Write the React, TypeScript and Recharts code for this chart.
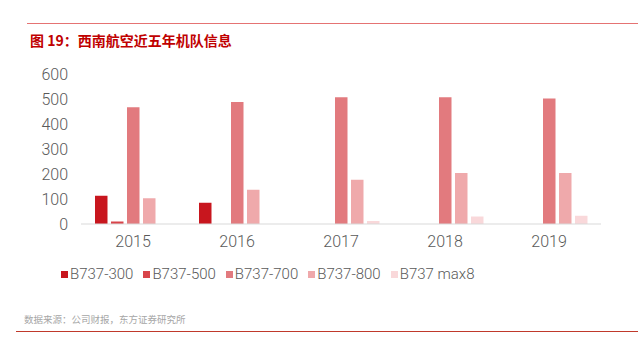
import React from 'react';
import { BarChart, Bar, XAxis, YAxis } from 'recharts';

const years = ['2015', '2016', '2017', '2018', '2019'];
const b737_300 = [113, 85, 0, 0, 0];
const b737_500 = [10, 0, 0, 0, 0];
const b737_700 = [467, 488, 507, 507, 502];
const b737_800 = [103, 137, 177, 204, 204];
const b737_max8 = [0, 0, 12, 30, 33];
const yTicks = [0, 100, 200, 300, 400, 500, 600];

const series = [
  { key: 'b300', name: 'B737-300', color: '#C8161E', values: b737_300 },
  { key: 'b500', name: 'B737-500', color: '#D8444A', values: b737_500 },
  { key: 'b700', name: 'B737-700', color: '#E27A7E', values: b737_700 },
  { key: 'b800', name: 'B737-800', color: '#EFA9AB', values: b737_800 },
  { key: 'bmax8', name: 'B737 max8', color: '#F9D8DA', values: b737_max8 },
];

const data = years.map((year, i) => {
  const row: Record<string, string | number> = { year };
  series.forEach((s) => {
    row[s.key] = s.values[i];
  });
  return row;
});

const font = 'Roboto, "Noto Sans", sans-serif';

function ChartLegend() {
  return (
    <div
      style={{
        position: 'absolute',
        left: 61,
        top: 265,
        display: 'flex',
        alignItems: 'center',
        fontFamily: font,
        fontWeight: 300,
        whiteSpace: 'nowrap',
      }}
    >
      {series.map((s) => (
        <div key={s.key} style={{ display: 'flex', alignItems: 'center', marginRight: 10 }}>
          <span style={{ width: 7, height: 7, background: s.color, marginRight: 2, display: 'inline-block' }} />
          <span style={{ fontSize: 15, color: '#595959' }}>{s.name}</span>
        </div>
      ))}
    </div>
  );
}

export default function App() {
  return (
    <div style={{ position: 'absolute', left: 0, top: 0, width: 638, height: 348, background: '#fff' }}>
      <div style={{ position: 'absolute', left: 27, right: 0, top: 23, height: 1, background: '#E57373' }} />
      <div
        style={{
          position: 'absolute',
          left: 30,
          top: 30,
          fontSize: 14,
          fontWeight: 'bold',
          color: '#C00000',
          fontFamily: '"Noto Sans CJK SC", sans-serif',
          whiteSpace: 'nowrap',
        }}
      >
        图 19：西南航空近五年机队信息
      </div>
      <BarChart
        width={638}
        height={348}
        data={data}
        margin={{ top: 74, right: 37, left: 0, bottom: 94 }}
        barGap={3.5}
        barSize={12.5}
        style={{ position: 'absolute', left: 0, top: 0 }}
      >
        <XAxis
          dataKey="year"
          tickLine={false}
          axisLine={{ stroke: '#D9D9D9' }}
          tick={{ fontSize: 16, fill: '#595959', fontFamily: font, fontWeight: 300 }}
          tickMargin={6}
          height={30}
        />
        <YAxis
          domain={[0, 600]}
          ticks={yTicks}
          interval={0}
          tickLine={false}
          axisLine={false}
          width={81}
          tickMargin={7}
          tick={{ fontSize: 16, fill: '#595959', fontFamily: font, fontWeight: 300 }}
        />
        {series.map((s) => (
          <Bar key={s.key} dataKey={s.key} name={s.name} fill={s.color} isAnimationActive={false} />
        ))}
      </BarChart>
      <ChartLegend />
      <div
        style={{
          position: 'absolute',
          left: 24,
          top: 312,
          fontSize: 9.5,
          color: '#A6A6A6',
          fontFamily: '"Noto Sans CJK SC", sans-serif',
          whiteSpace: 'nowrap',
        }}
      >
        数据来源：公司财报，东方证券研究所
      </div>
      <div style={{ position: 'absolute', left: 16, right: 0, top: 331, height: 1, background: '#C0392B' }} />
    </div>
  );
}
